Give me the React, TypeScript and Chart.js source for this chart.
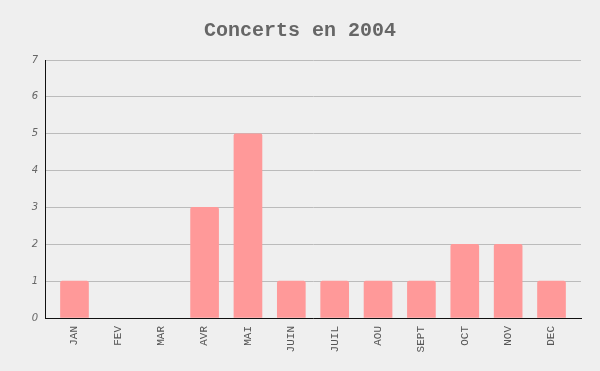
import React, { useEffect, useRef } from "react";
import { Chart, registerables } from "chart.js";

Chart.register(...registerables);

const months = ["JAN", "FEV", "MAR", "AVR", "MAI", "JUIN", "JUIL", "AOU", "SEPT", "OCT", "NOV", "DEC"];
const concerts = [1, 0, 0, 3, 5, 1, 1, 1, 1, 2, 2, 1];
const titleText = "Concerts en 2004";

export default function App() {
  const ref = useRef<HTMLCanvasElement>(null);
  useEffect(() => {
    const points = concerts.map((v, i) => ({ x: i, y: v }));
    const chart = new Chart(ref.current!, {
      type: "bar",
      data: {
        datasets: [
          {
            data: points as any,
            backgroundColor: (ctx: any) => (concerts[ctx.dataIndex] === 0 ? "rgba(0,0,0,0)" : "#ff9999"),
            borderWidth: 0,
            borderRadius: { topLeft: 2, topRight: 2, bottomLeft: 0, bottomRight: 0 },
            borderSkipped: "start",
            barThickness: 28,
          },
        ],
      },
      options: {
        animation: false,
        responsive: false,
        maintainAspectRatio: false,
        layout: { padding: { left: 19, right: 19, top: 0, bottom: 0 } },
        plugins: {
          legend: { display: false },
          tooltip: { enabled: false },
          title: {
            display: true,
            text: titleText,
            color: "#666666",
            font: { family: "'Liberation Mono', monospace", size: 20, weight: "bold", lineHeight: 1.2 },
            padding: { top: 19, bottom: 17 },
          },
        },
        scales: {
          x: {
            type: "linear",
            offset: false,
            min: -0.68,
            max: months.length - 1 + 0.68,
            grid: { display: false, drawTicks: false, offset: false },
            border: { display: true, color: "#111111", width: 1 },
            afterBuildTicks: (s: any) => {
              s.ticks = months.map((_, i) => ({ value: i }));
            },
            ticks: {
              color: "#555555",
              font: { family: "'Liberation Mono', monospace", size: 11 },
              minRotation: 90,
              maxRotation: 90,
              padding: 8,
              autoSkip: false,
              callback: (v: any) => months[Math.round(Number(v))] ?? "",
            },
            afterFit: (s: any) => {
              s.height = 371 - 318;
            },
          },
          y: {
            min: 0,
            max: 7,
            grid: { color: "#bbbbbb", drawTicks: false, lineWidth: 1 },
            border: { display: true, color: "#111111", width: 1 },
            ticks: {
              stepSize: 1,
              color: "#666666",
              font: { family: "'DejaVu Sans', sans-serif", size: 10, style: "italic" },
              padding: 7,
            },
            afterFit: (s: any) => {
              s.width = 45 - 19;
            },
          },
        },
      },
    });
    return () => chart.destroy();
  }, []);
  return (
    <div style={{ position: "fixed", left: 0, top: 0, width: 600, height: 371, background: "#efefef" }}>
      <canvas ref={ref} width={600} height={371} style={{ width: 600, height: 371, display: "block" }} />
    </div>
  );
}
